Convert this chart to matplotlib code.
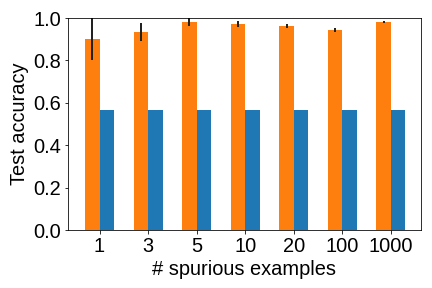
import matplotlib
matplotlib.use("Agg")
import matplotlib.pyplot as plt
import numpy as np

plt.rcParams['font.family'] = ['Liberation Sans', 'DejaVu Sans']

categories = ["1", "3", "5", "10", "20", "100", "1000"]
orange_vals = [0.90, 0.935, 0.981, 0.972, 0.962, 0.943, 0.981]
orange_err = [0.10, 0.042, 0.017, 0.013, 0.010, 0.010, 0.004]
blue_vals = [0.566, 0.566, 0.566, 0.566, 0.566, 0.566, 0.566]

fig, ax = plt.subplots(figsize=(6, 4), dpi=72)
x = np.arange(len(categories))
w = 0.3
ax.bar(x - w / 2, orange_vals, w, yerr=orange_err, color="#ff7f0e",
       error_kw=dict(ecolor="#222222", elinewidth=2, capsize=0))
ax.bar(x + w / 2, blue_vals, w, color="#1f77b4")
ax.set_xticks(x)
ax.set_xticklabels(categories)
ax.set_ylim(0, 1.0)
ax.set_xlim(-0.65, 6.62)
ax.tick_params(labelsize=20)
ax.set_xlabel("# spurious examples", fontsize=20)
ax.set_ylabel("Test accuracy", fontsize=20)
fig.subplots_adjust(left=68/432, right=421/432, top=1-18/288, bottom=1-230/288)
fig.savefig("out.png", dpi=72)
